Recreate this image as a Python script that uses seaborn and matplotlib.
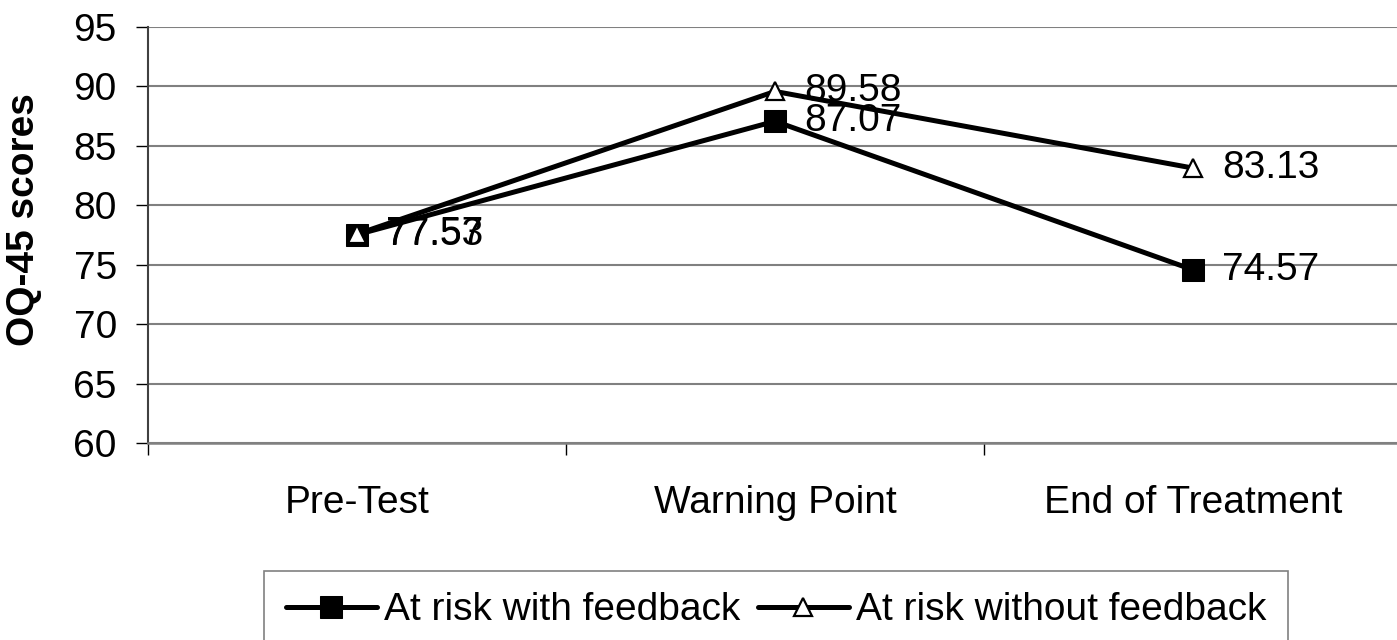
import matplotlib
matplotlib.use("Agg")
import matplotlib.pyplot as plt
import seaborn as sns
import pandas as pd
import numpy as np

# data
phases = ["Pre-Test", "Warning Point", "End of Treatment"]
with_feedback = [77.53, 87.07, 74.57]
without_feedback = [77.57, 89.58, 83.13]
series_names = ["At risk with feedback", "At risk without feedback"]
y_ticks = [60, 65, 70, 75, 80, 85, 90, 95]

sns.set_style("white")
plt.rcParams['font.family'] = ['Liberation Sans', 'DejaVu Sans']
plt.rcParams['text.color'] = 'black'
plt.rcParams['axes.labelcolor'] = 'black'
plt.rcParams['xtick.color'] = 'black'
plt.rcParams['ytick.color'] = 'black'

FS = 28

df = pd.DataFrame({
    "phase": phases * 2,
    "score": with_feedback + without_feedback,
    "group": [series_names[0]] * 3 + [series_names[1]] * 3,
})

fig = plt.figure(figsize=(13.97, 6.4), dpi=100)
ax = fig.add_axes([148 / 1397, 197 / 640, 1254 / 1397, 416 / 640])

styles = {
    series_names[0]: dict(marker="s", markersize=15.5, markerfacecolor="black",
                          markeredgecolor="black"),
    series_names[1]: dict(marker="^", markersize=13.5, markerfacecolor="white",
                          markeredgecolor="black", markeredgewidth=1.6),
}
for name in series_names:
    sub = df[df["group"] == name]
    sns.lineplot(data=sub, x="phase", y="score", ax=ax, color="black",
                 linewidth=3.6, label=name, sort=False, **styles[name])
    for i, v in enumerate(sub["score"]):
        ax.annotate(f"{v:.2f}", (i, v), xytext=(21, 0), textcoords="offset points",
                    fontsize=FS, va="center", ha="left")

ax.set_ylim(60, 95)
ax.set_xlim(-0.5, 2.5)
ax.set_yticks(y_ticks)
ax.yaxis.grid(True, color="#808080", linewidth=1.5)
ax.set_axisbelow(True)
for s in ["top", "right"]:
    ax.spines[s].set_visible(False)
ax.spines["left"].set_color("#404040")
ax.spines["bottom"].set_color("#808080")
ax.spines["left"].set_linewidth(1.5)
ax.spines["bottom"].set_linewidth(1.8)

ax.set_xticks(range(len(phases)))
ax.set_xticklabels(phases)
ax.set_xticks([-0.5, 0.5, 1.5, 2.5], minor=True)
ax.tick_params(axis="x", which="major", bottom=False, length=0, pad=30, labelsize=FS)
ax.tick_params(axis="x", which="minor", bottom=True, length=8.5, width=1, color="black")
ax.tick_params(axis="y", left=True, length=8.5, width=1, color="black",
               labelsize=FS, pad=14)
ax.set_xlabel("")
ax.set_ylabel("OQ-45 scores", fontsize=FS, fontweight="bold")
ax.yaxis.set_label_coords(-0.0845, 0.536)

handles, labels = ax.get_legend_handles_labels()
ax.get_legend().remove()
leg = fig.legend(handles, labels, loc="upper center", ncol=2,
                 bbox_to_anchor=(776 / 1397, 1 - 571 / 640), fontsize=FS,
                 frameon=True, fancybox=False, edgecolor="#606060",
                 handlelength=2.35, handletextpad=0.18, columnspacing=0.45,
                 borderpad=0.55, borderaxespad=0)
leg.get_frame().set_linewidth(1.2)

fig.savefig("out.png", dpi=100)
